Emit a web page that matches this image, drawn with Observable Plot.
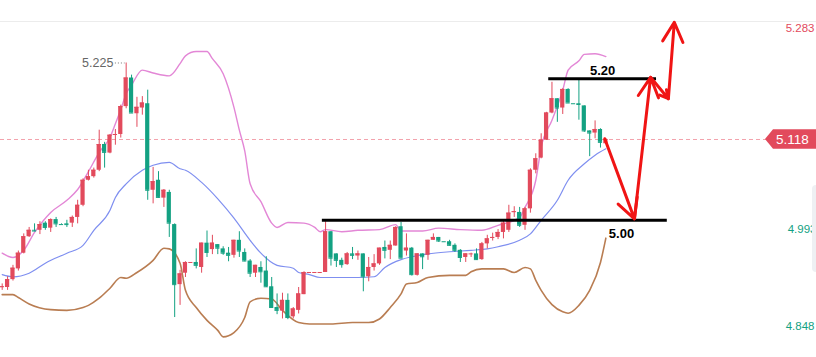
<!DOCTYPE html>
<html><head><meta charset="utf-8">
<script src="https://cdn.jsdelivr.net/npm/d3@7"></script>
<script src="https://cdn.jsdelivr.net/npm/@observablehq/plot@0.6"></script>
<style>
html,body{margin:0;padding:0;background:#fff;}
#wrap{position:relative;width:816px;height:357px;overflow:hidden;}
#panel{position:absolute;left:812px;top:185px;width:12px;height:87px;background:#eef0f3;border-radius:4px;}
</style></head><body><div id="wrap"></div><script>
// ---- candle data (index = trading day) ----
const open = [4.911,4.911,4.922,4.937,4.959,4.982,4.991,4.991,5.001,4.994,5.006,4.999,5.000,5.001,5.009,5.026,5.061,5.066,5.075,5.111,
5.099,5.124,5.125,5.164,5.204,5.154,5.162,5.168,5.047,5.061,5.036,5.044,4.999,4.915,4.931,4.946,4.946,4.939,4.973,4.964,
4.971,4.965,4.959,4.956,4.977,4.960,4.948,4.931,4.939,4.934,4.912,4.883,4.878,4.893,4.870,4.879,4.901,4.932,4.932,4.932,
4.932,4.989,4.958,4.949,4.943,4.958,4.955,4.958,4.926,4.939,4.944,4.967,4.963,4.969,4.996,4.962,4.966,4.928,4.958,4.956,
4.977,4.981,4.975,4.975,4.970,4.963,4.953,4.958,4.958,4.950,4.972,4.980,4.981,4.988,4.991,5.016,5.016,4.998,5.021,5.075,
5.092,5.117,5.155,5.175,5.162,5.188,5.168,5.168,5.165,5.130,5.127,5.132,5.112];
const close = [4.912,4.922,4.938,4.959,4.982,4.991,4.990,4.999,4.995,5.006,5.000,4.999,4.999,5.009,5.026,5.061,5.066,5.075,5.111,5.100,
5.124,5.125,5.164,5.204,5.155,5.163,5.169,5.047,5.059,5.037,5.047,5.001,4.915,4.930,4.946,4.946,4.942,4.973,4.960,4.973,
4.966,4.959,4.956,4.977,4.962,4.948,4.931,4.942,4.933,4.912,4.883,4.879,4.893,4.869,4.881,4.902,4.932,4.932,4.932,4.932,
4.989,4.952,4.949,4.943,4.958,4.956,4.958,4.926,4.939,4.944,4.966,4.963,4.970,4.995,4.952,4.966,4.929,4.958,4.954,4.977,
4.981,4.976,4.975,4.970,4.963,4.953,4.958,4.958,4.950,4.972,4.979,4.981,4.988,5.001,5.015,5.017,4.998,5.021,5.075,5.091,
5.117,5.155,5.175,5.162,5.188,5.169,5.168,5.167,5.130,5.127,5.132,5.114,5.118];
const high = [4.916,4.926,4.942,4.962,4.986,4.995,5.000,5.003,5.003,5.007,5.009,5.000,5.005,5.011,5.033,5.063,5.075,5.078,5.131,5.114,
5.125,5.132,5.166,5.225,5.208,5.177,5.178,5.187,5.079,5.073,5.048,5.047,5.000,4.935,4.947,4.946,4.965,4.973,4.990,4.984,
4.971,4.968,4.967,4.977,4.989,4.965,4.950,4.942,4.947,4.954,4.925,4.902,4.903,4.902,4.883,4.911,4.933,4.932,4.932,4.932,
5.003,4.989,4.958,4.952,4.960,4.967,4.962,4.958,4.953,4.957,4.966,4.976,4.976,4.996,5.002,4.986,4.967,4.958,4.958,4.977,
4.986,4.981,4.975,4.977,4.972,4.964,4.958,4.959,4.965,4.974,4.984,4.987,4.992,5.005,5.026,5.024,5.023,5.023,5.077,5.098,
5.126,5.156,5.198,5.175,5.189,5.189,5.168,5.201,5.165,5.130,5.144,5.133,5.119];
const low = [4.907,4.907,4.920,4.934,4.958,4.981,4.989,4.985,4.991,4.988,4.995,4.999,4.995,4.995,5.000,5.024,5.060,5.064,5.073,5.078,
5.098,5.110,5.120,5.161,5.155,5.135,5.152,5.033,5.028,5.036,5.023,4.981,4.869,4.886,4.925,4.946,4.937,4.931,4.953,4.957,
4.957,4.956,4.947,4.952,4.953,4.947,4.925,4.925,4.917,4.911,4.883,4.873,4.867,4.866,4.867,4.874,4.901,4.932,4.932,4.932,
4.932,4.941,4.939,4.938,4.942,4.950,4.949,4.905,4.919,4.934,4.942,4.951,4.950,4.969,4.952,4.955,4.927,4.927,4.936,4.949,
4.977,4.974,4.975,4.969,4.960,4.946,4.946,4.953,4.949,4.949,4.965,4.976,4.978,4.979,4.988,5.009,4.995,4.991,5.015,5.070,
5.091,5.117,5.154,5.142,5.153,5.169,5.168,5.145,5.128,5.094,5.119,5.106,5.111];

// ---- Bollinger bands, read at [day index, value] ----
const upperBand = [[0,4.959],[2,4.953],[4,4.963],[6,4.988],[9,5.016],[12,5.033],[14,5.048],[16,5.073],[18,5.100],[20,5.121],[21,5.140],[22,5.160],
[23,5.182],[24,5.194],[26,5.215],[28,5.211],[31,5.207],[33,5.224],[34,5.235],[36,5.241],[38,5.241],[39,5.231],[41,5.210],[43,5.163],[44,5.131],
[45,5.102],[46,5.056],[48,5.031],[50,5.001],[51,4.995],[53,5.002],[56,5.001],[58,4.995],[59,4.989],[60,4.992],[63,4.989],[66,4.991],[70,4.992],
[73,4.999],[74,4.990],[78,4.990],[81,4.994],[85,4.992],[89,4.991],[92,4.998],[96,5.009],[97,5.023],[99,5.061],[100,5.107],[102,5.145],[104,5.187],
[105,5.215],[107,5.228],[108,5.237],[110,5.238],[112,5.234]];
const middleBand = [[0,4.929],[2,4.926],[5,4.931],[8,4.945],[12,4.959],[15,4.970],[17,4.991],[20,5.019],[21,5.037],[23,5.056],[26,5.075],[28,5.082],
[31,5.086],[33,5.077],[34,5.075],[37,5.058],[40,5.035],[43,5.008],[46,4.977],[48,4.959],[51,4.942],[54,4.938],[55,4.932],[57,4.929],[59,4.925],
[63,4.925],[66,4.925],[69,4.926],[71,4.939],[74,4.950],[76,4.954],[79,4.958],[83,4.961],[87,4.963],[90,4.965],[92,4.968],[96,4.977],[98,4.986],
[100,5.005],[103,5.033],[105,5.061],[108,5.084],[110,5.096],[112,5.105]];
const lowerBand = [[0,4.901],[2,4.901],[3,4.897],[5,4.888],[9,4.880],[12,4.879],[15,4.883],[16,4.886],[18,4.896],[20,4.910],[22,4.925],[23,4.924],
[25,4.932],[28,4.949],[30,4.966],[31,4.965],[33,4.945],[34,4.907],[36,4.883],[38,4.865],[40,4.851],[41,4.842],[43,4.848],[45,4.869],[46,4.891],
[48,4.896],[50,4.895],[52,4.879],[55,4.862],[57,4.860],[61,4.860],[65,4.862],[68,4.862],[70,4.867],[72,4.883],[74,4.902],[75,4.916],[77,4.918],
[79,4.925],[83,4.928],[86,4.928],[87,4.933],[89,4.937],[93,4.937],[95,4.932],[97,4.939],[98,4.937],[99,4.921],[100,4.907],[102,4.887],[104,4.877],
[105,4.875],[107,4.886],[109,4.907],[111,4.946],[112,4.980]];

// ---- price axis, annotations ----
const yTicks = [5.283, 5.138, 4.993, 4.848];
const currentPrice = 5.118;
const highMark = {i: 23, v: 5.225};
const levelLabels = ["5.20", "5.00"];
const levelValues = [5.203, 5.005];
const levelFrom = [101.4, 59.4];
const levelTo = [121.4, 123.4];
const arrowPath = [[111.8,5.119],[117.3,5.007],[120.3,5.205],[123.6,5.175],[124.7,5.282]];

const RED = "#e24a5c", GREEN = "#13a182";
const PINK = "#e387d6", BLUE = "#7f8ff0", BROWN = "#b97d52";

const candles = open.map((o, i) => {
  const c = close[i];
  const prev = i > 0 ? close[i - 1] : o;
  const up = c > o || (c === o && c >= prev);
  return {i, open: o, close: c, high: high[i], low: low[i], dir: up ? "up" : "down"};
});
const levels = levelLabels.map((t, k) => ({t, v: levelValues[k], from: levelFrom[k], to: levelTo[k]}));
const segs = arrowPath.slice(1).map((p, k) => ({x1: arrowPath[k][0], y1: arrowPath[k][1], x2: p[0], y2: p[1]}));
const dirOf = v => v > currentPrice ? "up" : "down";
const fmt = v => v.toFixed(3);
const hw = 0.39;
// tick labels hidden behind the current-price tag are not drawn
const shownTicks = yTicks.filter(v => Math.abs(v - currentPrice) > 0.03);
const topTick = shownTicks.slice(0, 1);
const midTicks = shownTicks.slice(1, -1);
const bottomTick = shownTicks.slice(-1);

const chart = Plot.plot({
  width: 816, height: 357,
  marginTop: 0, marginBottom: 0, marginLeft: 0, marginRight: 0,
  x: {domain: [-0.315, 151.08], axis: null},
  y: {domain: [4.8131, 5.3124], axis: null},
  color: {domain: ["up", "down"], range: [RED, GREEN]},
  style: {fontFamily: "'Liberation Sans', Arial, sans-serif", background: "#fff", overflow: "visible"},
  marks: [
    Plot.ruleY(yTicks.slice(0, 1), {stroke: "#ececec"}),
    Plot.ruleY([currentPrice], {stroke: "#f3a2ad", strokeDasharray: "4,3"}),
    Plot.line(upperBand, {x: d => d[0], y: d => d[1], stroke: PINK, strokeWidth: 1.4, curve: "monotone-x"}),
    Plot.line(middleBand, {x: d => d[0], y: d => d[1], stroke: BLUE, strokeWidth: 1.2, curve: "monotone-x"}),
    Plot.line(lowerBand, {x: d => d[0], y: d => d[1], stroke: BROWN, strokeWidth: 1.6, curve: "monotone-x"}),
    Plot.ruleX(candles, {x: "i", y1: "low", y2: "high", stroke: "dir", strokeWidth: 1}),
    Plot.rect(candles, {x1: d => d.i - hw, x2: d => d.i + hw, y1: "open", y2: "close", fill: "dir"}),
    Plot.ruleY(candles, {y: "close", x1: d => d.i - hw, x2: d => d.i + hw, stroke: "dir", strokeWidth: 1}),
    // 5.225 high marker
    Plot.ruleY([highMark], {y: "v", x1: d => d.i - 2, x2: d => d.i - 0.2, stroke: "#777", strokeDasharray: "1,2"}),
    Plot.text([highMark], {x: d => d.i - 2, y: "v", text: d => d.v.toFixed(3), textAnchor: "end", dx: -2, fill: "#666", fontSize: 12.5}),
    // analyst levels
    Plot.ruleY(levels, {y: "v", x1: "from", x2: "to", stroke: "#000", strokeWidth: 3}),
    Plot.text(levels.slice(0, 1), {x: d => (d.from + d.to) / 2, y: "v", text: "t", dy: -8, fill: "#000", fontSize: 13, fontWeight: "bold"}),
    Plot.text(levels.slice(1), {x: d => d.to - 8.5, y: "v", text: "t", dy: 14, fill: "#000", fontSize: 13, fontWeight: "bold"}),
    // forecast arrows
    Plot.arrow(segs, {x1: "x1", y1: "y1", x2: "x2", y2: "y2", stroke: "#f01414", strokeWidth: 3, headLength: 11, headAngle: 55}),
    // right price labels
    Plot.text(topTick, {y: d => d, text: fmt, frameAnchor: "right", textAnchor: "end", dx: -2, dy: 6.5, fill: dirOf, fontSize: 11.5}),
    Plot.text(midTicks, {y: d => d, text: fmt, frameAnchor: "right", textAnchor: "end", dx: 0, dy: 0.5, fill: dirOf, fontSize: 11.5}),
    Plot.text(bottomTick, {y: d => d, text: fmt, frameAnchor: "right", textAnchor: "end", dx: -2, dy: -6, fill: dirOf, fontSize: 11.5})
  ]
});

// current price tag
const yc = chart.scale("y").apply(currentPrice);
const svg = d3.select(chart);
svg.append("path")
  .attr("d", `M765,${yc} L773,${yc - 9.8} H816 V${yc + 9.8} H773 Z`)
  .attr("fill", RED);
svg.append("text")
  .attr("x", 776).attr("y", yc).attr("dy", "0.36em")
  .attr("text-anchor", "start")
  .attr("fill", "#fff").attr("font-size", 13.5)
  .attr("font-family", "'Liberation Sans', Arial, sans-serif")
  .text(currentPrice.toFixed(3));

const wrap = document.getElementById("wrap");
wrap.appendChild(chart);
const panel = document.createElement("div");
panel.id = "panel";
wrap.appendChild(panel);
</script></body></html>
